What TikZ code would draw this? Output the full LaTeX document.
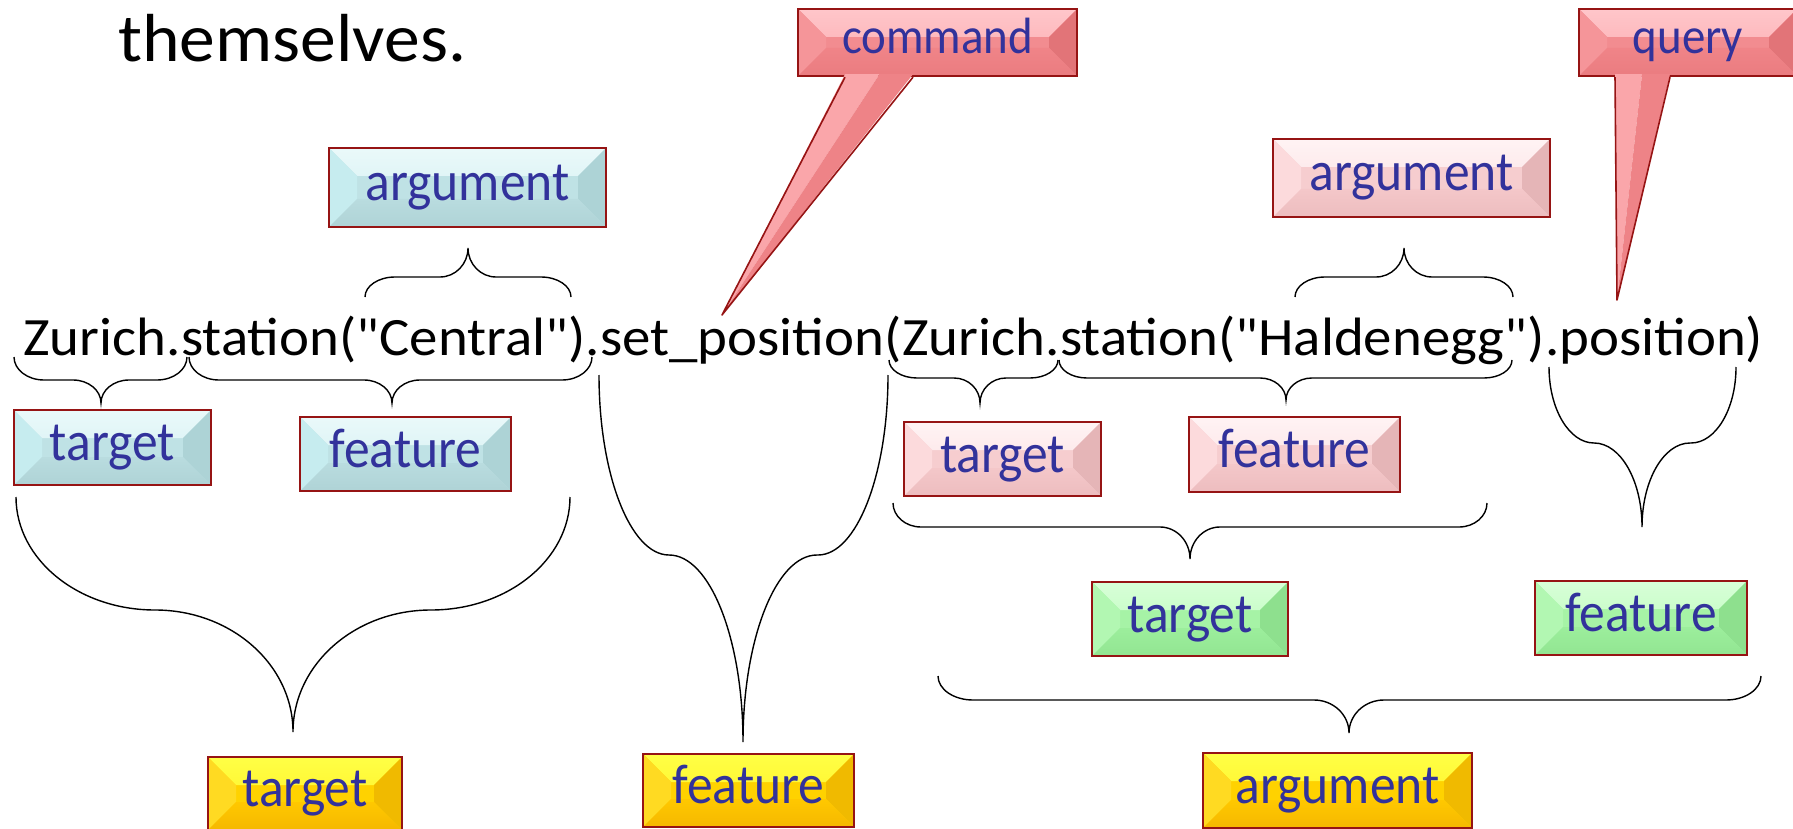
\documentclass[tikz,border=0pt]{standalone}
\usepackage{fontspec}
\usetikzlibrary{calc}
\newfontfamily\mainf[FakeStretch=1.053]{Carlito}
\newfontfamily\labf[FakeStretch=0.92]{Carlito}
\definecolor{bord}{RGB}{150,20,20}
\definecolor{lab}{RGB}{50,50,155}
% cyan
\definecolor{cyT1}{HTML}{EAF9FA}\definecolor{cyT2}{HTML}{CFEEF0}
\definecolor{cyL}{HTML}{C6ECEF}\definecolor{cyR}{HTML}{ADD3D6}
\definecolor{cyB1}{HTML}{B9DCDF}\definecolor{cyB2}{HTML}{AFD3D6}
\definecolor{cyC}{HTML}{BFE2E5}
% pink
\definecolor{pkT1}{HTML}{FFF3F4}\definecolor{pkT2}{HTML}{FADDDF}
\definecolor{pkL}{HTML}{FCDADC}\definecolor{pkR}{HTML}{E5B5B7}
\definecolor{pkB1}{HTML}{F4C7C9}\definecolor{pkB2}{HTML}{EDBDBF}
\definecolor{pkC}{HTML}{F6CDCF}
% green
\definecolor{grT1}{HTML}{D8FFD8}\definecolor{grT2}{HTML}{B6FAB6}
\definecolor{grL}{HTML}{B2F7B2}\definecolor{grR}{HTML}{8EE08E}
\definecolor{grB1}{HTML}{9CEE9C}\definecolor{grB2}{HTML}{92E592}
\definecolor{grC}{HTML}{A6F3A6}
% yellow
\definecolor{ylT1}{HTML}{FFFF45}\definecolor{ylT2}{HTML}{FFEE22}
\definecolor{ylL}{HTML}{FFDA22}\definecolor{ylR}{HTML}{F0BA00}
\definecolor{ylB1}{HTML}{FFC800}\definecolor{ylB2}{HTML}{F5B800}
\definecolor{ylC}{HTML}{FFD200}
% red
\definecolor{rdT1}{HTML}{FFC6CA}\definecolor{rdT2}{HTML}{FBA9AD}
\definecolor{rdL}{HTML}{F59599}\definecolor{rdR}{HTML}{E27478}
\definecolor{rdB1}{HTML}{F08488}\definecolor{rdB2}{HTML}{EA7C80}
\definecolor{rdC}{HTML}{F28C90}
\definecolor{rdP1}{HTML}{FAA6AA}\definecolor{rdP2}{HTML}{EE8387}
\newlength\bv \setlength\bv{28pt}
\newcommand\bevel[1]{%
 \shade[top color=#1T1,bottom color=#1T2] (path picture bounding box.north west) -- (path picture bounding box.north east) -- ([xshift=-\bv,yshift=-\bv]path picture bounding box.north east) -- ([xshift=\bv,yshift=-\bv]path picture bounding box.north west) -- cycle;
 \fill[#1L] (path picture bounding box.north west) -- ([xshift=\bv,yshift=-\bv]path picture bounding box.north west) -- ([xshift=\bv,yshift=\bv]path picture bounding box.south west) -- (path picture bounding box.south west) -- cycle;
 \fill[#1R] (path picture bounding box.north east) -- ([xshift=-\bv,yshift=-\bv]path picture bounding box.north east) -- ([xshift=-\bv,yshift=\bv]path picture bounding box.south east) -- (path picture bounding box.south east) -- cycle;
 \shade[top color=#1B1,bottom color=#1B2] (path picture bounding box.south west) -- ([xshift=\bv,yshift=\bv]path picture bounding box.south west) -- ([xshift=-\bv,yshift=\bv]path picture bounding box.south east) -- (path picture bounding box.south east) -- cycle;
}
% brace: x1, x2, xtip, yends, ymid, ytip, dend, dtip
\newcommand\brc[8]{%
 \draw[brline] (#1,#4) .. controls (#1,{#4+0.552*(#5-#4)}) and ({#1+0.448*#7},#5) .. ({#1+#7},#5)
   -- ({#3-#8},#5) .. controls ({#3-0.448*#8},#5) and (#3,{#5+0.448*(#6-#5)}) .. (#3,#6)
   .. controls (#3,{#5+0.448*(#6-#5)}) and ({#3+0.448*#8},#5) .. ({#3+#8},#5)
   -- ({#2-#7},#5) .. controls ({#2-0.448*#7},#5) and (#2,{#4+0.552*(#5-#4)}) .. (#2,#4);}
\begin{document}
\begin{tikzpicture}[x=1pt,y=-1pt,
  mtext/.style={inner sep=0pt, anchor=base west, font=\mainf\fontsize{54pt}{60pt}\selectfont},
  btn/.style={rectangle, inner sep=0pt, draw=bord, line width=2.4pt, fill=#1C,
    path picture={\bevel{#1}}, text=lab, font=\labf\fontsize{56pt}{60pt}\selectfont,
    text height=26pt, text depth=0pt},
  call/.style={btn=rd, font=\labf\fontsize{51pt}{55pt}\selectfont, text height=23pt},
  brline/.style={line width=1.4pt, black},
  pedge/.style={draw=bord, line width=1.6pt, line join=round}]
\useasboundingbox (0,0) rectangle (1793,829);

% heading word
\node[inner sep=0pt, anchor=base west, font=\mainf\fontsize{68pt}{72pt}\selectfont] (them) at (118,62) {themselves.};

% main expression
\node[mtext] (m1) at (23,355) {Zurich.};
\node[mtext] (m2) at (m1.base east) {station("Central")};
\node[mtext] (m3) at (m2.base east) {.set\_position(};
\node[mtext] (m4) at (m3.base east) {Zurich.};
\node[mtext] (m5) at (m4.base east) {station("Haldenegg")};
\node[mtext] (m6) at (m5.base east) {.position)};

% callouts
\node[call, minimum width=279pt, minimum height=67pt] (cmd) at (937.5,42.5) {command};
\coordinate (cmdtip) at (722,315);
\fill[rdP1] ($(cmd.south)+(-92.5,-3)$) -- ($(cmd.south)+(-58,-3)$) -- (cmdtip) -- cycle;
\fill[rdP2] ($(cmd.south)+(-58,-3)$) -- ($(cmd.south)+(-24.5,-3)$) -- (cmdtip) -- cycle;
\draw[pedge] ($(cmd.south)+(-92.5,0)$) -- (cmdtip) -- ($(cmd.south)+(-24.5,0)$);

\node[call, minimum width=218pt, minimum height=67pt] (qry) at (1688,42.5) {query};
\coordinate (qrytip) at (1617,300);
\fill[rdP1] ($(qry.south)+(-73,-3)$) -- ($(qry.south)+(-46,-3)$) -- (qrytip) -- cycle;
\fill[rdP2] ($(qry.south)+(-46,-3)$) -- ($(qry.south)+(-18,-3)$) -- (qrytip) -- cycle;
\draw[pedge] ($(qry.south)+(-73,0)$) -- (qrytip) -- ($(qry.south)+(-18,0)$);

% label boxes
\node[btn=cy, minimum width=277pt, minimum height=79pt] (arg1) at (467.5,187.5) {argument};
\node[btn=cy, minimum width=197pt, minimum height=75pt] (tg1) at (112.5,447.5) {target};
\node[btn=cy, minimum width=211pt, minimum height=74pt] (ft1) at (405.5,454) {feature};
\node[btn=yl, minimum width=194pt, minimum height=73pt] (tg0) at (305,793.5) {target};
\node[btn=yl, minimum width=211pt, minimum height=73pt] (ft0) at (748.5,790.5) {feature};
\node[btn=pk, minimum width=277pt, minimum height=78pt] (arg2) at (1411.5,178) {argument};
\node[btn=pk, minimum width=197pt, minimum height=74pt] (tg2) at (1002.5,459) {target};
\node[btn=pk, minimum width=211pt, minimum height=75pt] (ft2) at (1294.5,454.5) {feature};
\node[btn=gr, minimum width=196pt, minimum height=74pt] (tg3) at (1190,619) {target};
\node[btn=gr, minimum width=212pt, minimum height=74pt] (ft3) at (1641,618) {feature};
\node[btn=yl, minimum width=269pt, minimum height=75pt] (arg0) at (1337.5,790.5) {argument};

% braces
\brc{14}{187}{101}{357}{380}{403}{30}{28}
\brc{189}{592}{392}{357}{380}{403}{30}{28}
\brc{365}{571}{468}{297}{277}{248}{30}{28}
\brc{599}{888}{743}{375}{555}{742}{70}{74}
\brc{16}{570}{293}{497}{610}{732}{139}{138}
\brc{889}{1058}{980}{360}{378}{403}{28}{26}
\brc{1059}{1512}{1286}{360}{378}{400}{28}{26}
\brc{1295}{1513}{1404}{297}{277}{248}{30}{28}
\brc{1549}{1736}{1642}{367}{443}{527}{45}{48}
\brc{893}{1487}{1190}{503}{527}{559}{28}{30}
\brc{938}{1761}{1349}{676}{700}{733}{35}{35}
\end{tikzpicture}
\end{document}
